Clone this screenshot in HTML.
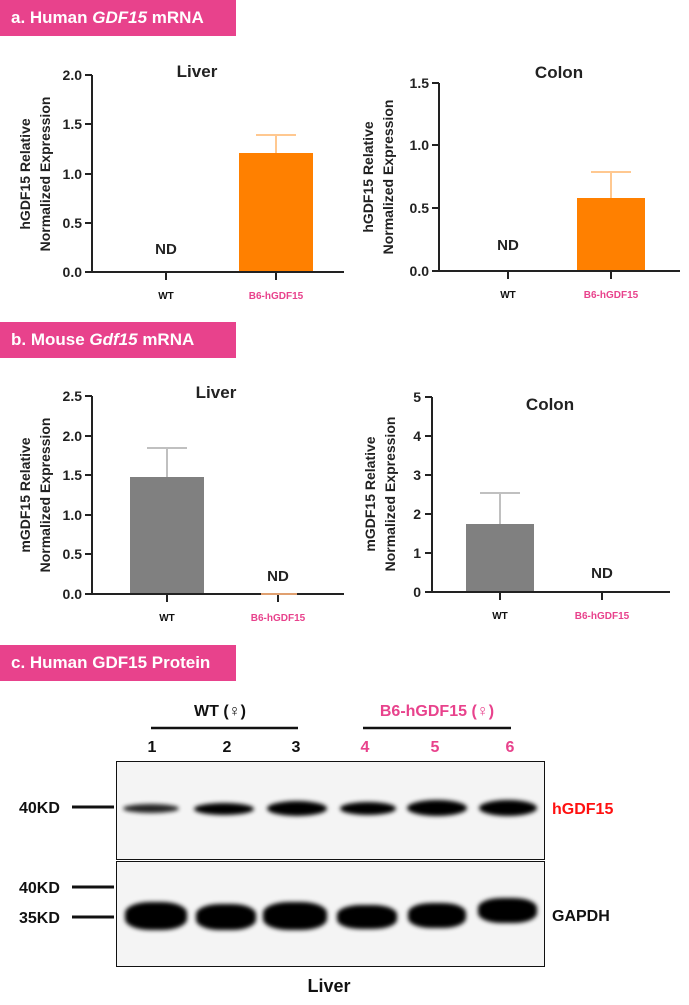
<!DOCTYPE html>
<html><head><meta charset="utf-8"><style>
body{margin:0;width:689px;height:1005px;background:#fff;position:relative;overflow:hidden;font-family:"Liberation Sans",sans-serif}
.hdr{position:absolute;left:0;width:236px;height:36px;background:#e8428c;color:#fff;font-weight:bold;font-size:17px;line-height:36px;padding-left:11px;box-sizing:border-box;z-index:2}
.abs{position:absolute}
.band{position:absolute;background:#000;border-radius:50%;filter:blur(2px)}
svg text{font-family:"Liberation Sans",sans-serif}
</style></head><body>
<div class="hdr" style="top:0px">a. Human <i>GDF15</i> mRNA</div>
<div class="hdr" style="top:322px">b. Mouse <i>Gdf15</i> mRNA</div>
<div class="hdr" style="top:645px">c. Human GDF15 Protein</div>

<svg class="abs" style="left:0;top:0" width="689" height="640">
<g stroke="#222" stroke-width="2" fill="none">
<path d="M92,75V272H344M85,75H92M85,124H92M85,174H92M85,223H92M85,272H92M166,272V280M276,272V280"/>
<path d="M439,83V271H680M432,83H439M432,145H439M432,208H439M432,271H439M508,271V279M611,271V279"/>
<path d="M92,396V594H344M85,396H92M85,436H92M85,475H92M85,515H92M85,554H92M85,594H92M167,594V602M278,594V602"/>
<path d="M432,397V592H670M425,397H432M425,436H432M425,475H432M425,514H432M425,553H432M425,592H432M500,592V600M602,592V600"/>
</g>
<rect x="239" y="153" width="74" height="118" fill="#ff8000"/>
<path d="M276,153V135M256,135H296" stroke="#ffc890" stroke-width="2"/>
<rect x="577" y="198" width="68" height="72" fill="#ff8000"/>
<path d="M611,198V172M591,172H631" stroke="#ffc890" stroke-width="2"/>
<rect x="130" y="477" width="74" height="116" fill="#808080"/>
<path d="M167,477V448M147,448H187" stroke="#c0c0c0" stroke-width="2"/>
<rect x="466" y="524" width="68" height="67" fill="#808080"/>
<path d="M500,524V493M480,493H520" stroke="#c0c0c0" stroke-width="2"/>
<path d="M261,594H297" stroke="#e0a070" stroke-width="2"/>
<g font-weight="bold" font-size="14" fill="#222" text-anchor="end">
<text x="82" y="80">2.0</text><text x="82" y="129">1.5</text><text x="82" y="179">1.0</text><text x="82" y="228">0.5</text><text x="82" y="277">0.0</text>
<text x="429" y="88">1.5</text><text x="429" y="150">1.0</text><text x="429" y="213">0.5</text><text x="429" y="276">0.0</text>
<text x="82" y="401">2.5</text><text x="82" y="441">2.0</text><text x="82" y="480">1.5</text><text x="82" y="520">1.0</text><text x="82" y="559">0.5</text><text x="82" y="599">0.0</text>
<text x="421" y="402">5</text><text x="421" y="441">4</text><text x="421" y="480">3</text><text x="421" y="519">2</text><text x="421" y="558">1</text><text x="421" y="597">0</text>
</g>
<g font-weight="bold" font-size="17" fill="#222" text-anchor="middle">
<text x="197" y="77">Liver</text><text x="559" y="78">Colon</text>
<text x="216" y="398">Liver</text><text x="550" y="410">Colon</text>
</g>
<g font-weight="bold" font-size="15" fill="#222" text-anchor="middle">
<text x="166" y="254">ND</text><text x="508" y="250">ND</text>
<text x="278" y="581">ND</text><text x="602" y="578">ND</text>
</g>
<g font-weight="bold" font-size="10" text-anchor="middle">
<text x="166" y="299" fill="#111">WT</text><text x="276" y="299" fill="#e8428c">B6-hGDF15</text>
<text x="508" y="298" fill="#111">WT</text><text x="611" y="298" fill="#e8428c">B6-hGDF15</text>
<text x="167" y="621" fill="#111">WT</text><text x="278" y="621" fill="#e8428c">B6-hGDF15</text>
<text x="500" y="619" fill="#111">WT</text><text x="602" y="619" fill="#e8428c">B6-hGDF15</text>
</g>
<g font-weight="bold" font-size="14" fill="#222" text-anchor="middle">
<text transform="translate(30,174) rotate(-90)">hGDF15 Relative</text>
<text transform="translate(50,174) rotate(-90)">Normalized Expression</text>
<text transform="translate(373,177) rotate(-90)">hGDF15 Relative</text>
<text transform="translate(393,177) rotate(-90)">Normalized Expression</text>
<text transform="translate(30,495) rotate(-90)">mGDF15 Relative</text>
<text transform="translate(50,495) rotate(-90)">Normalized Expression</text>
<text transform="translate(375,494) rotate(-90)">mGDF15 Relative</text>
<text transform="translate(395,494) rotate(-90)">Normalized Expression</text>
</g>
</svg>

<div class="abs" style="left:116px;top:761px;width:427px;height:97px;border:1px solid #111;background:#f4f4f4;overflow:hidden">
<div class="band" style="left:6px;top:42px;width:56px;height:9px;opacity:.85"></div>
<div class="band" style="left:77px;top:41px;width:60px;height:12px"></div>
<div class="band" style="left:150px;top:39px;width:60px;height:15px"></div>
<div class="band" style="left:223px;top:40px;width:56px;height:13px"></div>
<div class="band" style="left:290px;top:38px;width:60px;height:16px"></div>
<div class="band" style="left:362px;top:38px;width:58px;height:16px"></div>
</div>
<div class="abs" style="left:116px;top:861px;width:427px;height:104px;border:1px solid #111;background:#f4f4f4;overflow:hidden">
<div class="band" style="left:8px;top:40px;width:62px;height:28px;border-radius:40%"></div>
<div class="band" style="left:79px;top:42px;width:60px;height:26px;border-radius:40%"></div>
<div class="band" style="left:146px;top:40px;width:64px;height:28px;border-radius:40%"></div>
<div class="band" style="left:220px;top:43px;width:60px;height:24px;border-radius:40%"></div>
<div class="band" style="left:291px;top:41px;width:58px;height:25px;border-radius:40%"></div>
<div class="band" style="left:361px;top:36px;width:59px;height:25px;border-radius:40%"></div>
</div>
<svg class="abs" style="left:0;top:690px" width="689" height="315">
<g stroke="#111" stroke-width="3"><path d="M72,117H114M72,197H114M72,227H114"/>
<path d="M151,38H298M363,38H511" stroke-width="2.5"/></g>
<g font-weight="bold" font-size="16" fill="#111">
<text x="19" y="123">40KD</text><text x="19" y="203">40KD</text><text x="19" y="233">35KD</text>
<text x="220" y="26" text-anchor="middle">WT (♀)</text>
<text x="437" y="26" text-anchor="middle" fill="#e8428c">B6-hGDF15 (♀)</text>
<text x="152" y="62" text-anchor="middle">1</text><text x="227" y="62" text-anchor="middle">2</text><text x="296" y="62" text-anchor="middle">3</text>
<g fill="#e8428c"><text x="365" y="62" text-anchor="middle">4</text><text x="435" y="62" text-anchor="middle">5</text><text x="510" y="62" text-anchor="middle">6</text></g>
<text x="552" y="124" fill="#ff1010">hGDF15</text>
<text x="552" y="231">GAPDH</text>
<text x="329" y="302" text-anchor="middle" font-size="18">Liver</text>
</g>
</svg>
</body></html>
